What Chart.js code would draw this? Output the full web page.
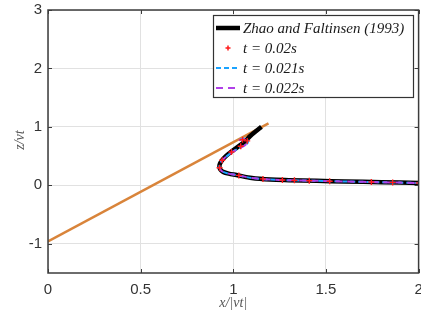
<!DOCTYPE html>
<html>
<head>
<meta charset="utf-8">
<script src="https://cdn.jsdelivr.net/npm/chart.js@4/dist/chart.umd.min.js"></script>
<style>
html,body{margin:0;padding:0;background:#fff;overflow:hidden;}
#wrap{width:421px;height:323px;overflow:hidden;}
</style>
</head>
<body>
<div id="wrap"><canvas id="c" width="424" height="323"></canvas></div>
<script>
// ---- data ----
const xTicks = [0, 0.5, 1, 1.5, 2];
const yTicks = [-1, 0, 1, 2, 3];
const legendLabels = ['Zhao and Faltinsen (1993)', 't = 0.02s', 't = 0.021s', 't = 0.022s'];

const wedgeX = [0, 1.19];
const wedgeZ = [-0.96, 1.06];

const zhaoX = [1.152, 1.12, 1.09, 1.062, 1.03, 0.99, 0.96, 0.94, 0.928, 0.925, 0.93, 0.945, 0.975, 1.017, 1.1, 1.2, 1.3, 1.45, 1.6, 1.8, 2.0];
const zhaoZ = [1.00, 0.92, 0.84, 0.75, 0.67, 0.58, 0.50, 0.43, 0.37, 0.32, 0.27, 0.23, 0.20, 0.176, 0.125, 0.098, 0.088, 0.077, 0.066, 0.053, 0.04];

const t021X = [1.035, 1.06, 1.08, 1.07, 1.04, 1.0, 0.965, 0.94, 0.928, 0.925, 0.93, 0.945, 0.975, 1.017, 1.1, 1.2, 1.3, 1.45, 1.6, 1.8, 2.0];
const t021Z = [0.78, 0.80, 0.76, 0.70, 0.65, 0.58, 0.50, 0.43, 0.37, 0.32, 0.27, 0.23, 0.20, 0.176, 0.125, 0.098, 0.088, 0.077, 0.066, 0.053, 0.04];

const t022X = [1.03, 1.055, 1.075, 1.065, 1.035, 0.995, 0.962, 0.94, 0.928, 0.925, 0.93, 0.945, 0.975, 1.017, 1.1, 1.2, 1.3, 1.45, 1.6, 1.8, 2.0];
const t022Z = [0.77, 0.79, 0.75, 0.69, 0.64, 0.57, 0.495, 0.43, 0.37, 0.32, 0.27, 0.23, 0.20, 0.176, 0.125, 0.098, 0.088, 0.077, 0.066, 0.053, 0.04];

const t02X = [1.05, 1.075, 1.04, 0.99, 0.94, 0.926, 1.03, 1.16, 1.265, 1.33, 1.41, 1.52, 1.745, 1.86, 2.0];
const t02Z = [0.78, 0.76, 0.67, 0.57, 0.43, 0.30, 0.17, 0.11, 0.092, 0.085, 0.078, 0.07, 0.056, 0.05, 0.04];

const pts = (xs, zs) => xs.map((x, i) => ({x: x, y: zs[i]}));

const styles = {
  zhao: {color: '#000000', width: 4.5, dash: []},
  t02: {color: '#ff1a1a'},
  t021: {color: '#1aa3ff', width: 2, dash: [5, 3]},
  t022: {color: '#b040e8', width: 2, dash: [7, 5]}
};

const frame = {
  id: 'frame',
  afterDraw(chart) {
    const ctx = chart.ctx;
    const a = chart.chartArea;
    const xs = chart.scales.x, ys = chart.scales.y;
    ctx.save();
    ctx.strokeStyle = '#3c3c3c';
    ctx.lineWidth = 1.5;
    ctx.strokeRect(a.left, a.top, a.right - a.left, a.bottom - a.top);
    ctx.lineWidth = 1;
    ctx.beginPath();
    xTicks.forEach(v => {
      const px = Math.round(xs.getPixelForValue(v)) + 0.5;
      ctx.moveTo(px, a.bottom); ctx.lineTo(px, a.bottom - 4);
      ctx.moveTo(px, a.top); ctx.lineTo(px, a.top + 4);
    });
    yTicks.forEach(v => {
      const py = Math.round(ys.getPixelForValue(v)) + 0.5;
      ctx.moveTo(a.left, py); ctx.lineTo(a.left + 4, py);
      ctx.moveTo(a.right, py); ctx.lineTo(a.right - 4, py);
    });
    ctx.stroke();
    ctx.fillStyle = '#555555';
    ctx.font = 'italic 14px "Liberation Serif"';
    ctx.textAlign = 'center';
    ctx.textBaseline = 'middle';
    ctx.fillText('x/|vt|', (a.left + a.right) / 2, 303);
    ctx.save();
    ctx.translate(20, 140);
    ctx.rotate(-Math.PI / 2);
    ctx.fillText('z/vt', 0, 0);
    ctx.restore();
    const L = 213, T = 15, R = 413, B = 97;
    ctx.fillStyle = '#ffffff';
    ctx.fillRect(L, T, R - L, B - T);
    ctx.strokeStyle = '#333333';
    ctx.lineWidth = 1.2;
    ctx.strokeRect(L + 0.5, T + 0.5, R - L, B - T);
    const rows = [28, 48, 68, 88];
    ctx.strokeStyle = styles.zhao.color; ctx.lineWidth = 4.5; ctx.setLineDash([]);
    ctx.beginPath(); ctx.moveTo(216, rows[0]); ctx.lineTo(240, rows[0]); ctx.stroke();
    ctx.strokeStyle = styles.t02.color; ctx.lineWidth = 1.5;
    ctx.beginPath(); ctx.moveTo(228 - 2.5, rows[1]); ctx.lineTo(228 + 2.5, rows[1]);
    ctx.moveTo(228, rows[1] - 2.5); ctx.lineTo(228, rows[1] + 2.5); ctx.stroke();
    ctx.strokeStyle = styles.t021.color; ctx.lineWidth = 2; ctx.setLineDash(styles.t021.dash);
    ctx.beginPath(); ctx.moveTo(216, rows[2]); ctx.lineTo(240, rows[2]); ctx.stroke();
    ctx.strokeStyle = styles.t022.color; ctx.setLineDash(styles.t022.dash);
    ctx.beginPath(); ctx.moveTo(216, rows[3]); ctx.lineTo(240, rows[3]); ctx.stroke();
    ctx.setLineDash([]);
    ctx.fillStyle = '#1a1a1a';
    ctx.font = 'italic 15px "Liberation Serif"';
    ctx.textAlign = 'left';
    legendLabels.forEach((t, i) => ctx.fillText(t, 243, rows[i] + 1));
    ctx.restore();
  }
};

new Chart(document.getElementById('c'), {
  type: 'scatter',
  data: {
    datasets: [
      {label: legendLabels[1], data: pts(t02X, t02Z), showLine: false, pointStyle: 'cross', pointRadius: 3, borderColor: styles.t02.color, borderWidth: 1.4, order: 0},
      {label: legendLabels[3], data: pts(t022X, t022Z), showLine: true, pointRadius: 0, borderColor: styles.t022.color, borderWidth: 2, borderDash: styles.t022.dash, tension: 0.3, order: 1},
      {label: legendLabels[2], data: pts(t021X, t021Z), showLine: true, pointRadius: 0, borderColor: styles.t021.color, borderWidth: 2, borderDash: styles.t021.dash, tension: 0.3, order: 2},
      {label: legendLabels[0], data: pts(zhaoX, zhaoZ), showLine: true, pointRadius: 0, borderColor: styles.zhao.color, borderWidth: 4.5, tension: 0.3, order: 3},
      {label: 'wedge', data: pts(wedgeX, wedgeZ), showLine: true, pointRadius: 0, borderColor: '#d9843a', borderWidth: 2.5, order: 4}
    ]
  },
  options: {
    responsive: false,
    animation: false,
    events: [],
    layout: {padding: {top: 10, right: 0, left: 0, bottom: 0}},
    plugins: {legend: {display: false}, tooltip: {enabled: false}},
    scales: {
      x: {
        type: 'linear', min: 0, max: 2,
        afterBuildTicks: s => { s.ticks = xTicks.map(v => ({value: v})); },
        afterFit: s => { s.height = 50; s.paddingLeft = 0; s.paddingRight = 0; },
        grid: {color: '#e1e1e1', drawTicks: false},
        border: {display: false},
        ticks: {padding: 8, color: '#333333', font: {family: '"Liberation Sans"', size: 15}, maxRotation: 0, autoSkip: false, callback: v => String(v)}
      },
      y: {
        type: 'linear', min: -1.5, max: 3,
        afterBuildTicks: s => { s.ticks = yTicks.map(v => ({value: v})); },
        afterFit: s => { s.width = 48; s.paddingTop = 0; s.paddingBottom = 0; },
        grid: {color: '#e1e1e1', drawTicks: false},
        border: {display: false},
        ticks: {padding: 6, color: '#333333', font: {family: '"Liberation Sans"', size: 15}, autoSkip: false, callback: v => String(v)}
      }
    }
  },
  plugins: [frame]
});
</script>
</body>
</html>
